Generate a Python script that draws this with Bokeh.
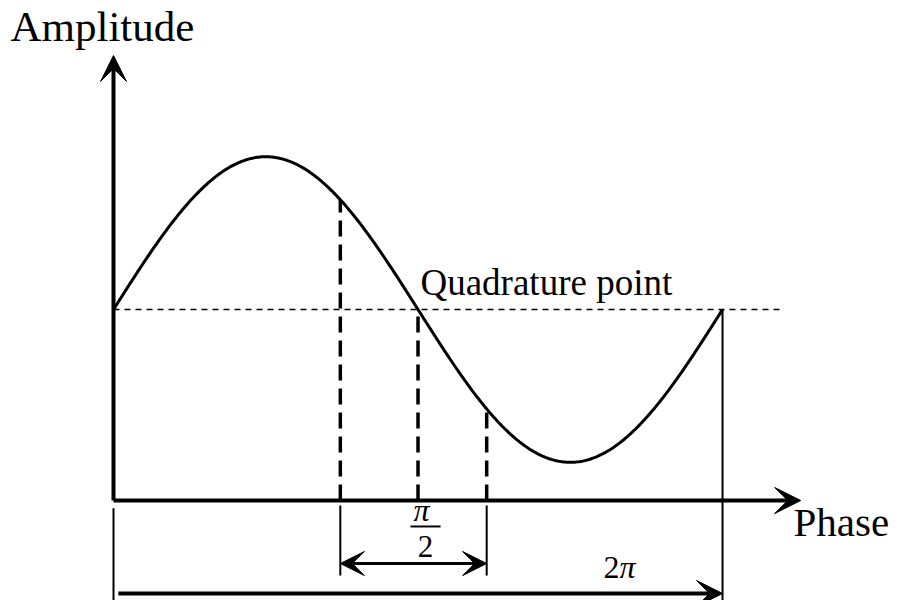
import numpy as np
from bokeh.plotting import figure
from bokeh.models import Arrow, VeeHead, Range1d
from bokeh.core.properties import value
from bokeh.embed import file_html
from bokeh.resources import INLINE

# ---- data (schematic of a sinusoidal transfer curve) ----
bias = 1.0              # quadrature (mid) level
amp = 0.8               # sine amplitude
phase_end = 2 * np.pi   # one full period
quad_phase = np.pi      # quadrature point
span_phases = [2.34, 3.85]                                # pi/2 span
marker_phases = [span_phases[0], quad_phase, span_phases[1]]  # dashed verticals
x_axis_end = 7.09
y_axis_end = 2.33
dotted_end = 6.88

FONT = "Liberation Serif"

p = figure(width=890, height=600, output_backend="svg", toolbar_location=None,
           x_range=Range1d(-1.1658, 8.016), y_range=Range1d(-0.5236, 2.618),
           min_border=0, outline_line_color=None, background_fill_color="white",
           border_fill_color="white")
p.axis.visible = False
p.grid.visible = False

# sine curve
xs = np.linspace(0, phase_end, 400)
p.line(xs, bias + amp * np.sin(xs), line_color="black", line_width=3)

# dotted quadrature line
p.line([0, dotted_end], [bias, bias], line_color="black", line_width=1.5, line_dash="6 5")

# dashed verticals from axis to curve
for ph in marker_phases:
    p.line([ph, ph], [0, bias + amp * np.sin(ph)], line_color="black", line_width=3.5,
           line_dash="16 8")

# thin extension lines
p.line([0, 0], [-0.04, -0.6], line_color="black", line_width=2)
for ph in span_phases:
    p.line([ph, ph], [-0.026, -0.393], line_color="black", line_width=2)
p.line([phase_end, phase_end], [bias, -0.6], line_color="black", line_width=2)

def head(sz):
    return VeeHead(size=sz, fill_color="black", line_color="black", line_width=1)

# axes with arrows
p.add_layout(Arrow(x_start=0, y_start=0, x_end=x_axis_end, y_end=0, line_width=4, end=head(26)))
p.add_layout(Arrow(x_start=0, y_start=0, x_end=0, y_end=y_axis_end, line_width=4, end=head(26)))

# pi/2 double arrow
p.add_layout(Arrow(x_start=span_phases[0], y_start=-0.33, x_end=span_phases[1], y_end=-0.33,
                   line_width=3, start=head(24), end=head(24)))

# 2pi arrow
p.add_layout(Arrow(x_start=0.05, y_start=-0.487, x_end=phase_end, y_end=-0.487, line_width=4,
                   end=head(26)))

# texts
p.text(x=[-1.063], y=[2.48], text=["Amplitude"], text_font=value(FONT),
       text_font_size="43px", text_color="black", text_baseline="alphabetic", text_align="left")
p.text(x=[7.015], y=[-0.115], text=["Phase"], text_font=value(FONT),
       text_font_size="41px", text_color="black", text_baseline="alphabetic", text_align="left")
p.text(x=[3.167], y=[1.141], text=["Quadrature point"], text_font=value(FONT),
       text_font_size="37px", text_color="black", text_baseline="alphabetic", text_align="left")

# pi/2 fraction
p.text(x=[3.178], y=[-0.052], text=["π"], text_font=value(FONT), text_font_style="italic",
       text_font_size="32px", text_color="black", text_baseline="alphabetic", text_align="center")
p.line([3.064, 3.374], [-0.136, -0.136], line_color="black", line_width=2)
p.text(x=[3.219], y=[-0.241], text=["2"], text_font=value(FONT),
       text_font_size="31px", text_color="black", text_baseline="alphabetic", text_align="center")

# 2pi label
p.text(x=[5.055], y=[-0.35], text=["2"], text_font=value(FONT),
       text_font_size="32px", text_color="black", text_baseline="alphabetic", text_align="left")
p.text(x=[5.22], y=[-0.35], text=["π"], text_font=value(FONT), text_font_style="italic",
       text_font_size="32px", text_color="black", text_baseline="alphabetic", text_align="left")

open("out.html", "w").write(file_html(p, INLINE))
